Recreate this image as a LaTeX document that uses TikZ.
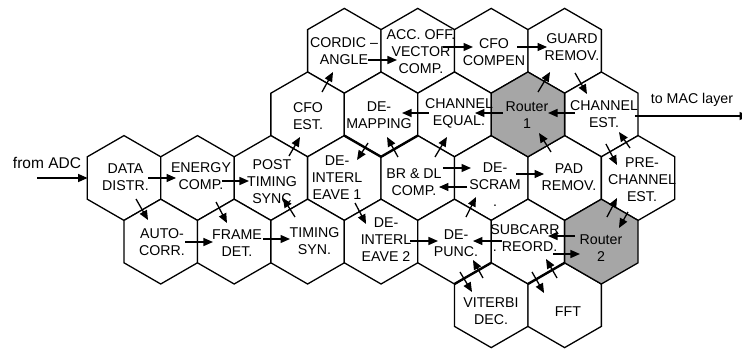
\documentclass[tikz,border=0pt]{standalone}
\usepackage{fontspec}
\setmainfont{Liberation Sans}
\usetikzlibrary{arrows.meta}
\definecolor{routergray}{RGB}{166,166,166}
\tikzset{
  hexa/.style={draw=black, line width=1.3pt, line join=miter},
  thickedge/.style={draw=black, line width=2.4pt},
  arr/.style={-{Triangle[length=9.5pt,width=8pt]}, line width=1.3pt},
  lbl/.style={align=center, inner sep=0pt, font=\fontsize{14.2}{17}\selectfont},
}
\newcommand\hexcell[4]{%
  \coordinate (#1) at (#2,#3);
  \filldraw[hexa, fill=#4, shift={(#2,#3)}] (0,-42.4) -- (36.72,-21.2) -- (36.72,21.2) -- (0,42.4) -- (-36.72,21.2) -- (-36.72,-21.2) -- cycle;
}
\begin{document}
\begin{tikzpicture}[x=1pt,y=-1pt]
\useasboundingbox (0,0) rectangle (742,351);
% hexagons
\hexcell{CORDIC}{344.32}{50.8}{white}
\hexcell{ACC}{417.76}{50.8}{white}
\hexcell{CFOC}{491.2}{50.8}{white}
\hexcell{GUARD}{564.64}{50.8}{white}
\hexcell{CFOE}{307.6}{114.4}{white}
\hexcell{DEMAP}{381.04}{114.4}{white}
\hexcell{CHEQ}{454.48}{114.4}{white}
\hexcell{CHEST}{601.36}{114.4}{white}
\hexcell{DATA}{124}{178}{white}
\hexcell{ENERGY}{197.44}{178}{white}
\hexcell{POST}{270.88}{178}{white}
\hexcell{DEINTA}{344.32}{178}{white}
\hexcell{BRDL}{417.76}{178}{white}
\hexcell{DESCR}{491.2}{178}{white}
\hexcell{PAD}{564.64}{178}{white}
\hexcell{PRECH}{638.08}{178}{white}
\hexcell{AUTO}{160.72}{241.6}{white}
\hexcell{FRAME}{234.16}{241.6}{white}
\hexcell{TIMING}{307.6}{241.6}{white}
\hexcell{DEINTB}{381.04}{241.6}{white}
\hexcell{DEPUNC}{454.48}{241.6}{white}
\hexcell{SUBC}{527.92}{241.6}{white}
\hexcell{VIT}{491.2}{305.2}{white}
\hexcell{FFT}{564.64}{305.2}{white}
\hexcell{RTONE}{527.92}{114.4}{routergray}
\hexcell{RTTWO}{601.36}{241.6}{routergray}
% thicker shared edges
\draw[thickedge] ([shift={(-36.72,21.2)}]DEMAP) -- ([shift={(0,42.4)}]DEMAP) -- ([shift={(36.72,21.2)}]DEMAP);
\draw[thickedge] ([shift={(-36.72,-21.2)}]VIT) -- ([shift={(0,-42.4)}]VIT);
\draw[thickedge] ([shift={(-36.72,-21.2)}]FFT) -- ([shift={(0,-42.4)}]FFT);
% labels
\node[lbl] (tCORDIC) at (344,51.5) {CORDIC –\\ANGLE};
\node[lbl] (tACC) at (421,51.7) {ACC. OFF.\\VECTOR\\COMP.};
\node[lbl] (tCFOC) at (494,51.7) {CFO\\COMPEN};
\node[lbl] (tGUARD) at (572,47) {GUARD\\REMOV.};
\node[lbl] (tCFOE) at (308,116) {CFO\\EST.};
\node[lbl] (tDEMAP) at (379,115) {DE-\\MAPPING};
\node[lbl] (tCHEQ) at (459,113) {CHANNEL\\EQUAL.};
\node[lbl] (tRTONE) at (527,115) {Router\\1};
\node[lbl] (tCHEST) at (604,114) {CHANNEL\\EST.};
\node[lbl] (tDATA) at (125.5,177) {DATA\\DISTR.};
\node[lbl] (tENERGY) at (201,176) {ENERGY\\COMP.};
\node[lbl] (tPOST) at (272,181.7) {POST\\TIMING\\SYNC};
\node[lbl] (tDEINTA) at (337,178) {DE-\\INTERL\\EAVE 1};
\node[lbl] (tBRDL) at (414,182.5) {BR \& DL\\COMP.};
\node[lbl] (tDESCR) at (495,185) {DE-\\SCRAM\\.};
\node[lbl] (tPAD) at (569,177) {PAD\\REMOV.};
\node[lbl] (tPRECH) at (642,180) {PRE-\\CHANNEL\\EST.};
\node[lbl] (tAUTO) at (162,242) {AUTO-\\CORR.};
\node[lbl] (tFRAME) at (237,243) {FRAME\\DET.};
\node[lbl] (tTIMING) at (314.5,241) {TIMING\\SYN.};
\node[lbl] (tDEINTB) at (386,239.5) {DE-\\INTERL\\EAVE 2};
\node[lbl] (tDEPUNC) at (456,243) {DE-\\PUNC.};
\node[lbl] (tSUBC) at (525,238) {SUBCARR\\. REORD.};
\node[lbl] (tRTTWO) at (601,248.5) {Router\\2};
\node[lbl] (tVIT) at (491,311) {VITERBI\\DEC.};
\node[lbl] (tFFT) at (568,312) {FFT};
\node[lbl, font=\fontsize{15.5}{18}\selectfont] (tADC) at (47,163) {from ADC};
\node[lbl] (tMAC) at (692,100) {to MAC layer};
\coordinate (adcin) at (37,178);
\coordinate (macout) at (749,116);
% arrows
\draw[arr] (adcin) -- ([shift={(-36.4,0)}]DATA);
\draw[arr] ([shift={(24,0)}]DATA) -- ([shift={(-21.4,0)}]ENERGY);
\draw[arr] ([shift={(12,21)}]DATA) -- ([shift={(-12.7,-21.6)}]AUTO);
\draw[arr] ([shift={(24.6,3)}]ENERGY) -- ([shift={(-21.9,3)}]POST);
\draw[arr] ([shift={(18.6,24)}]ENERGY) -- ([shift={(-7.2,-18.6)}]FRAME);
\draw[arr] ([shift={(24.3,0.4)}]AUTO) -- ([shift={(-21.2,0.4)}]FRAME);
\draw[arr] ([shift={(28.8,-2.6)}]FRAME) -- ([shift={(-17.6,-2.6)}]TIMING);
\draw[arr] ([shift={(-12.6,-24.6)}]TIMING) -- ([shift={(12.1,20)}]POST);
\draw[arr] ([shift={(18.1,-22)}]POST) -- ([shift={(-7.6,22.6)}]CFOE);
\draw[arr] ([shift={(14.4,-22.4)}]CFOE) -- ([shift={(-11.3,21.2)}]CORDIC);
\draw[arr] ([shift={(23.7,9.2)}]CORDIC) -- ([shift={(-20.8,9.2)}]ACC);
\draw[arr] ([shift={(25.2,-3.8)}]ACC) -- ([shift={(-18.2,-3.8)}]CFOC);
\draw[arr] ([shift={(25.8,-3.8)}]CFOC) -- ([shift={(-17.6,-3.8)}]GUARD);
\draw[arr] ([shift={(10.1,-22.4)}]RTONE) -- ([shift={(-14.6,21.2)}]GUARD);
\draw[arr] ([shift={(10.4,22.2)}]GUARD) -- ([shift={(-14.4,-20.4)}]CHEST);
\draw[arr] ([shift={(-26.4,-1.4)}]CHEST) -- ([shift={(20.1,-1.4)}]RTONE);
\draw[arr] ([shift={(-24.9,-1.4)}]RTONE) -- ([shift={(20.5,-1.4)}]CHEQ);
\draw[arr] ([shift={(-25.5,-1.4)}]CHEQ) -- ([shift={(21,-1.4)}]DEMAP);
\draw[arr] ([shift={(-13,28.6)}]DEMAP) -- ([shift={(12.7,-18)}]DEINTA);
\draw[arr] ([shift={(-19.8,-21)}]BRDL) -- ([shift={(6,22.6)}]DEMAP);
\draw[arr] ([shift={(17.2,-21)}]BRDL) -- ([shift={(-7.5,22.6)}]CHEQ);
\draw[arr] ([shift={(25.2,-10)}]BRDL) -- ([shift={(-20.2,-10)}]DESCR);
\draw[arr] ([shift={(-24.2,9)}]DESCR) -- ([shift={(21.2,9)}]BRDL);
\draw[arr] ([shift={(-13.6,-26)}]PAD) -- ([shift={(11.1,18.6)}]RTONE);
\draw[arr] ([shift={(24.8,-4)}]DESCR) -- ([shift={(-20.6,-4)}]PAD);
\draw[arr] ([shift={(4.6,29.6)}]CHEST) -- ([shift={(-21.1,-13)}]PRECH);
\draw[arr] ([shift={(-8.1,-30)}]PRECH) -- ([shift={(17.6,17.6)}]CHEST);
\draw[arr] ([shift={(5.6,-24.6)}]RTTWO) -- ([shift={(-21.1,20)}]PRECH);
\draw[arr] ([shift={(-10.1,34)}]PRECH) -- ([shift={(17.6,-13.6)}]RTTWO);
\draw[arr] ([shift={(-26.4,-5.6)}]RTTWO) -- ([shift={(20.1,-5.6)}]SUBC);
\draw[arr] ([shift={(25.1,12.4)}]SUBC) -- ([shift={(-21.4,12.4)}]RTTWO);
\draw[arr] ([shift={(-25.9,-0.6)}]SUBC) -- ([shift={(18.5,-0.6)}]DEPUNC);
\draw[arr] ([shift={(11.5,-24.6)}]DEPUNC) -- ([shift={(-15.2,19)}]DESCR);
\draw[arr] ([shift={(29,-0.6)}]DEINTB) -- ([shift={(-16.5,-0.6)}]DEPUNC);
\draw[arr] ([shift={(10.7,25)}]DEINTA) -- ([shift={(-15,-17.6)}]DEINTB);
\draw[arr] ([shift={(5.5,30.4)}]DEPUNC) -- ([shift={(-19.2,-13.2)}]VIT);
\draw[arr] ([shift={(-8.2,-27.2)}]VIT) -- ([shift={(18.5,18.4)}]DEPUNC);
\draw[arr] ([shift={(4.1,30.4)}]SUBC) -- ([shift={(-20.6,-12.2)}]FFT);
\draw[arr] ([shift={(-7.6,-27.2)}]FFT) -- ([shift={(18.1,17.4)}]SUBC);
\draw[arr] ([shift={(33.6,1.6)}]CHEST) -- (macout);
\end{tikzpicture}
\end{document}
